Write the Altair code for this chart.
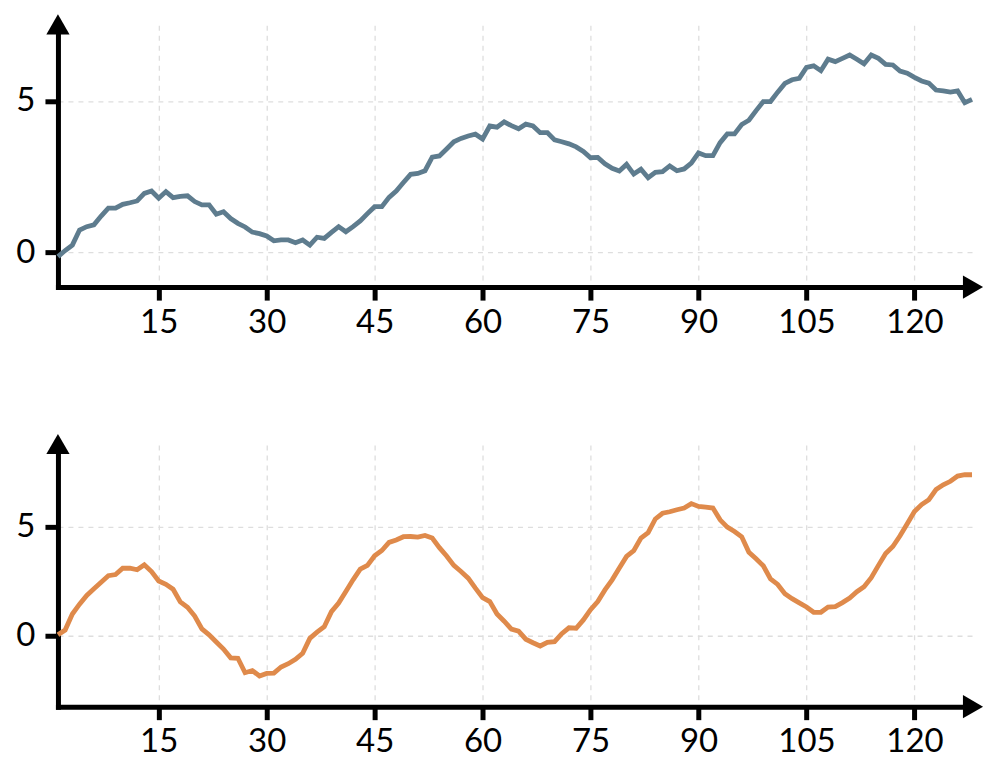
import altair as alt
import pandas as pd

x_vals = list(range(1, 129))

top_vals = [
    -0.15, 0.05, 0.23, 0.73, 0.84, 0.90, 1.19, 1.45, 1.45, 1.58,
    1.63, 1.69, 1.94, 2.02, 1.78, 2.00, 1.80, 1.84, 1.86, 1.67,
    1.56, 1.56, 1.25, 1.33, 1.11, 0.95, 0.83, 0.66, 0.61, 0.53,
    0.37, 0.40, 0.40, 0.31, 0.40, 0.23, 0.49, 0.45, 0.65, 0.84,
    0.67, 0.84, 1.03, 1.27, 1.50, 1.50, 1.81, 2.02, 2.30, 2.57,
    2.60, 2.69, 3.14, 3.18, 3.41, 3.65, 3.76, 3.84, 3.90, 3.74,
    4.17, 4.13, 4.31, 4.18, 4.08, 4.23, 4.17, 3.95, 3.95, 3.71,
    3.65, 3.58, 3.48, 3.33, 3.12, 3.13, 2.92, 2.77, 2.68, 2.90,
    2.58, 2.74, 2.46, 2.64, 2.66, 2.85, 2.69, 2.75, 2.94, 3.28,
    3.19, 3.19, 3.62, 3.91, 3.91, 4.22, 4.36, 4.68, 4.98, 4.98,
    5.29, 5.58, 5.70, 5.75, 6.11, 6.16, 6.00, 6.38, 6.30, 6.41,
    6.52, 6.38, 6.23, 6.52, 6.41, 6.21, 6.19, 5.99, 5.92, 5.78,
    5.66, 5.59, 5.36, 5.33, 5.29, 5.33, 4.94, 5.05,
]

bottom_vals = [
    0.05, 0.27, 1.00, 1.45, 1.85, 2.15, 2.45, 2.75, 2.80, 3.09,
    3.09, 3.02, 3.25, 2.94, 2.51, 2.36, 2.13, 1.55, 1.31, 0.91,
    0.32, 0.05, -0.28, -0.60, -1.00, -1.02, -1.68, -1.58, -1.83, -1.71,
    -1.70, -1.42, -1.27, -1.07, -0.79, -0.11, 0.17, 0.42, 1.11, 1.50,
    2.03, 2.56, 3.05, 3.22, 3.66, 3.90, 4.27, 4.38, 4.53, 4.54,
    4.51, 4.59, 4.47, 4.03, 3.65, 3.22, 2.94, 2.64, 2.18, 1.75,
    1.57, 1.00, 0.67, 0.31, 0.22, -0.15, -0.31, -0.46, -0.29, -0.26,
    0.10, 0.37, 0.35, 0.73, 1.20, 1.57, 2.10, 2.56, 3.10, 3.63,
    3.89, 4.47, 4.72, 5.34, 5.60, 5.67, 5.76, 5.84, 6.04, 5.91,
    5.88, 5.84, 5.30, 4.97, 4.77, 4.53, 3.82, 3.52, 3.20, 2.60,
    2.35, 1.93, 1.70, 1.51, 1.32, 1.08, 1.08, 1.32, 1.34, 1.52,
    1.73, 2.02, 2.25, 2.66, 3.22, 3.76, 4.08, 4.57, 5.12, 5.68,
    6.00, 6.22, 6.68, 6.90, 7.06, 7.30, 7.36, 7.36,
]

x_ticks = [15, 30, 45, 60, 75, 90, 105, 120]
y_ticks = [0, 5]
x_domain = [1, 128]
top_domain = [-1.16, 7.5]
bottom_domain = [-3.23, 8.72]

W, H = 915, 262


def panel(values, color, ydomain):
    df = pd.DataFrame({"x": x_vals, "y": values})
    line = alt.Chart(df).mark_line(color=color, strokeWidth=4.8).encode(
        x=alt.X("x:Q", title=None,
                scale=alt.Scale(domain=x_domain, nice=False, zero=False),
                axis=alt.Axis(values=x_ticks, labelPadding=6)),
        y=alt.Y("y:Q", title=None,
                scale=alt.Scale(domain=ydomain, nice=False, zero=False),
                axis=alt.Axis(values=y_ticks, labelPadding=10)),
    )
    one = pd.DataFrame({"k": [0]})
    up = alt.Chart(one).mark_point(shape="triangle-up", filled=True, size=540,
                                   color="black", opacity=1).encode(
        x=alt.value(0), y=alt.value(-1))
    right = alt.Chart(one).mark_point(shape="triangle-right", filled=True, size=540,
                                      color="black", opacity=1).encode(
        x=alt.value(W + 1), y=alt.value(H))
    return alt.layer(line, up, right).properties(width=W, height=H)


chart = alt.vconcat(
    panel(top_vals, "#5e7c8e", top_domain),
    panel(bottom_vals, "#df8a4b", bottom_domain),
    spacing=94,
).properties(
    padding={"left": 7, "top": 5, "right": 5, "bottom": 5}
).configure_view(
    stroke=None
).configure_axis(
    domainColor="black", domainWidth=5, domainCap="square",
    tickColor="black", tickWidth=5, tickSize=13,
    labelFont="Lato", labelFontSize=33, labelColor="black",
    grid=True, gridColor="#dedede", gridDash=[5, 5], gridWidth=1.3,
)

chart.save("out.html", embed_options={"renderer": "svg", "actions": False})
